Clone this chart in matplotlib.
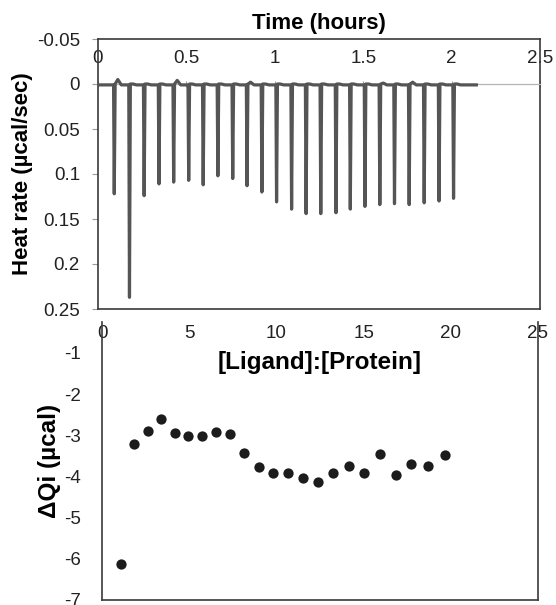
import matplotlib
matplotlib.use("Agg")
import matplotlib.pyplot as plt

plt.rcParams['font.family'] = ['Liberation Sans', 'DejaVu Sans']
plt.rcParams['axes.unicode_minus'] = False

# --- thermogram (top panel) ---
peak_time = [0.092, 0.178, 0.261, 0.345, 0.428, 0.513, 0.595, 0.678, 0.762, 0.843,
             0.927, 1.010, 1.095, 1.177, 1.260, 1.346, 1.427, 1.510, 1.594, 1.677,
             1.760, 1.845, 1.929, 2.011]
peak_depth = [0.122, 0.237, 0.124, 0.111, 0.109, 0.107, 0.112, 0.102, 0.105, 0.113,
              0.120, 0.131, 0.139, 0.144, 0.144, 0.143, 0.139, 0.136, 0.134, 0.133,
              0.134, 0.132, 0.130, 0.127]
# baseline level just after each injection (negative = small upward overshoot)
after_level = [-0.005, 0.000, 0.000, 0.000, -0.004, 0.000, 0.000, 0.000, 0.000, -0.002,
               0.000, 0.000, 0.000, 0.000, 0.000, 0.000, 0.000, 0.000, -0.001, 0.000,
               -0.002, 0.000, 0.000, 0.000]
run_start, run_end, base_level = 0.0, 2.14, 0.001

time_ticks = [0, 0.5, 1, 1.5, 2, 2.5]
time_labels = ['0', '0.5', '1', '1.5', '2', '2.5']
rate_ticks = [-0.05, 0, 0.05, 0.1, 0.15, 0.2, 0.25]
rate_labels = ['-0.05', '0', '0.05', '0.1', '0.15', '0.2', '0.25']

# --- integrated heats (bottom panel) ---
ratio = [1.09, 1.85, 2.62, 3.38, 4.19, 4.91, 5.75, 6.54, 7.36, 8.16, 8.98, 9.82,
         10.68, 11.54, 12.39, 13.25, 14.14, 15.04, 15.94, 16.84, 17.74, 18.69, 19.67]
dq = [-6.13, -3.21, -2.90, -2.61, -2.94, -3.02, -3.02, -2.93, -2.98, -3.44, -3.76, -3.92,
      -3.92, -4.03, -4.13, -3.92, -3.74, -3.92, -3.45, -3.96, -3.70, -3.74, -3.48]

ratio_ticks = [0, 5, 10, 15, 20, 25]
ratio_labels = ['0', '5', '10', '15', '20', '25']
dq_ticks = [-1, -2, -3, -4, -5, -6, -7]
dq_labels = ['-1', '-2', '-3', '-4', '-5', '-6', '-7']

# build the raw trace vertices from the injection list
tx, ty = [run_start], [base_level]
for t, d, a in zip(peak_time, peak_depth, after_level):
    tx += [t - 0.004, t, t + 0.005, t + 0.02, t + 0.04]
    ty += [base_level, d, 0.0, a, base_level]
tx.append(run_end)
ty.append(base_level)

spine_col = '#3a3a3a'
tick_fs = 13.5

fig = plt.figure(figsize=(5.56, 6.05), dpi=100)

ax1 = fig.add_axes([98 / 556, 1 - 309 / 605, 442 / 556, 270 / 605])
ax1.plot(tx, ty, color='#555555', lw=2.3, solid_joinstyle='round', zorder=3)
ax1.set_xlim(0, 2.5)
ax1.set_ylim(0.25, -0.05)
ax1.set_xticks(time_ticks, time_labels)
ax1.set_yticks(rate_ticks, rate_labels)

ax1.spines['top'].set_position(('data', 0.0))
ax1.spines['top'].set_color('#b5b5b5')
ax1.spines['top'].set_linewidth(0.9)
for s in ['left', 'right', 'bottom']:
    ax1.spines[s].set_color(spine_col)
    ax1.spines[s].set_linewidth(1.2)
ax1.plot([0, 1], [1, 1], transform=ax1.transAxes, color=spine_col, lw=1.2, clip_on=False)

ax1.xaxis.set_ticks_position('top')
ax1.tick_params(axis='x', direction='inout', length=5, width=0.8, color='#9a9a9a',
                pad=9.7, labelsize=tick_fs, labelcolor='#222222')
ax1.tick_params(axis='y', direction='out', length=4, width=0.8, color='#9a9a9a',
                pad=9, labelsize=tick_fs, labelcolor='#222222')
ax1.set_ylabel('Heat rate (µcal/sec)', fontsize=16, fontweight='bold')
ax1.yaxis.set_label_coords(-0.146, 0.5)
ax1.text(0.5, 1 + 15 / 270, 'Time (hours)', transform=ax1.transAxes, ha='center',
         va='center', fontsize=16, fontweight='bold')

ax2 = fig.add_axes([102 / 556, 1 - 600 / 605, 436 / 556, 278 / 605])
ax2.plot(ratio, dq, 'o', color='#1c1c1c', ms=7.4, mec='none')
ax2.set_xlim(0, 25)
ax2.set_ylim(-7, -0.25)
ax2.set_xticks(ratio_ticks, ratio_labels)
ax2.set_yticks(dq_ticks, dq_labels)
ax2.spines['top'].set_visible(False)
for s in ['left', 'right', 'bottom']:
    ax2.spines[s].set_color(spine_col)
    ax2.spines[s].set_linewidth(1.2)
ax2.xaxis.set_ticks_position('top')
ax2.tick_params(axis='x', length=0, pad=-14.4, labelsize=tick_fs, labelcolor='#222222')
ax2.tick_params(axis='y', length=0, pad=15, labelsize=tick_fs, labelcolor='#222222')
ax2.set_ylabel('ΔQi (µcal)', fontsize=17.5, fontweight='bold')
ax2.yaxis.set_label_coords(-0.095, 0.5)
ax2.text(0.5, 1 - 41 / 278, '[Ligand]:[Protein]', transform=ax2.transAxes, ha='center',
         va='center', fontsize=17.5, fontweight='bold')

fig.savefig('out.png', dpi=100)
